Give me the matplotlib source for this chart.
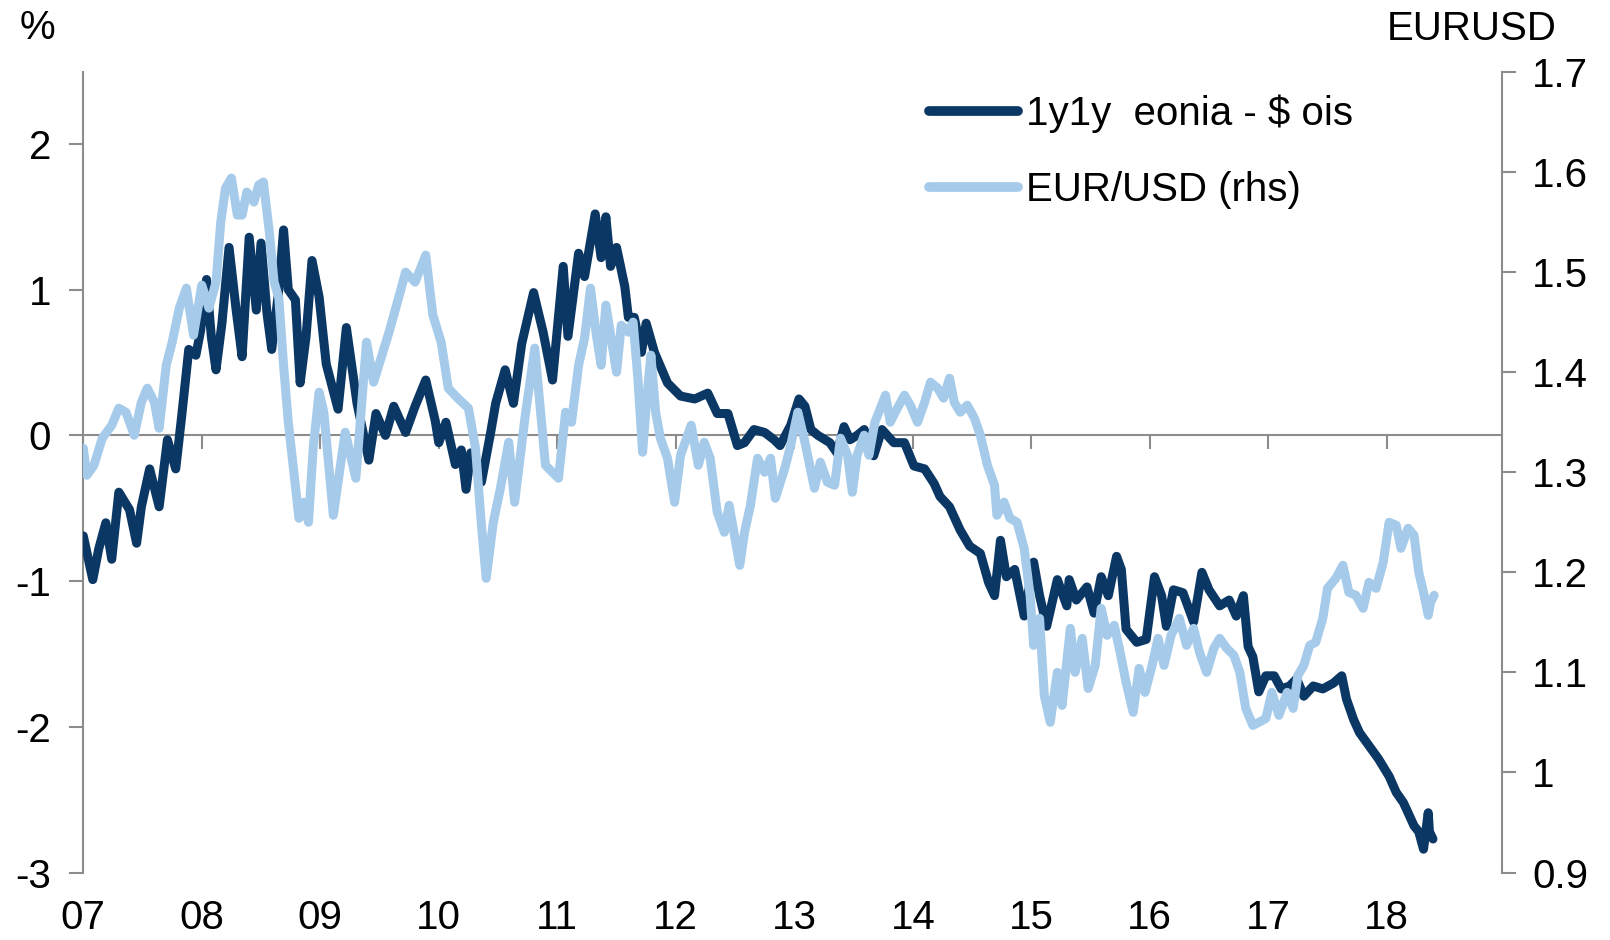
import matplotlib
matplotlib.use("Agg")
import matplotlib.pyplot as plt
from matplotlib.ticker import FuncFormatter, FixedLocator

plt.rcParams['font.family'] = ['Liberation Sans', 'DejaVu Sans']

# ---- data ----
spread_years = [2007.00, 2007.08, 2007.13, 2007.19, 2007.24, 2007.30, 2007.39, 2007.45, 2007.49, 2007.56,
                2007.64, 2007.71, 2007.78, 2007.83, 2007.89, 2007.95, 2007.99, 2008.04, 2008.08, 2008.12,
                2008.17, 2008.23, 2008.29, 2008.34, 2008.40, 2008.46, 2008.50, 2008.55, 2008.59, 2008.65,
                2008.69, 2008.73, 2008.79, 2008.83, 2008.88, 2008.93, 2008.99, 2009.05, 2009.15, 2009.22,
                2009.31, 2009.41, 2009.47, 2009.55, 2009.62, 2009.72, 2009.80, 2009.89, 2009.97, 2010.00,
                2010.06, 2010.14, 2010.19, 2010.23, 2010.27, 2010.36, 2010.44, 2010.48, 2010.56, 2010.63,
                2010.70, 2010.80, 2010.88, 2010.96, 2011.05, 2011.09, 2011.18, 2011.23, 2011.32, 2011.37,
                2011.41, 2011.45, 2011.50, 2011.57, 2011.60, 2011.65, 2011.71, 2011.75, 2011.82, 2011.93,
                2012.04, 2012.16, 2012.27, 2012.35, 2012.44, 2012.52, 2012.58, 2012.66, 2012.75, 2012.83,
                2012.88, 2012.97, 2013.04, 2013.09, 2013.14, 2013.20, 2013.30, 2013.36, 2013.42, 2013.47,
                2013.53, 2013.59, 2013.67, 2013.74, 2013.84, 2013.93, 2014.01, 2014.10, 2014.18, 2014.23,
                2014.31, 2014.40, 2014.48, 2014.57, 2014.64, 2014.69, 2014.74, 2014.79, 2014.86, 2014.94,
                2015.02, 2015.07, 2015.13, 2015.22, 2015.30, 2015.32, 2015.38, 2015.47, 2015.53, 2015.59,
                2015.65, 2015.72, 2015.76, 2015.80, 2015.89, 2015.97, 2016.04, 2016.10, 2016.14, 2016.20,
                2016.28, 2016.37, 2016.44, 2016.50, 2016.59, 2016.67, 2016.73, 2016.79, 2016.83, 2016.87,
                2016.92, 2016.98, 2017.05, 2017.11, 2017.18, 2017.24, 2017.30, 2017.38, 2017.46, 2017.55,
                2017.62, 2017.66, 2017.72, 2017.77, 2017.85, 2017.93, 2018.02, 2018.08, 2018.14, 2018.18,
                2018.23, 2018.27, 2018.31, 2018.35, 2018.36, 2018.39]
spread_vals = [-0.69, -0.99, -0.78, -0.60, -0.85, -0.39, -0.51, -0.74, -0.49, -0.23,
               -0.49, -0.03, -0.23, 0.13, 0.59, 0.55, 0.72, 1.07, 0.68, 0.45,
               0.77, 1.29, 0.86, 0.54, 1.36, 0.86, 1.32, 0.84, 0.59, 1.00,
               1.41, 1.00, 0.93, 0.36, 0.68, 1.20, 0.95, 0.49, 0.18, 0.74,
               0.22, -0.17, 0.15, 0.00, 0.20, 0.02, 0.20, 0.38, 0.10, -0.05,
               0.09, -0.20, -0.10, -0.37, -0.12, -0.32, 0.03, 0.22, 0.45, 0.22,
               0.63, 0.98, 0.71, 0.38, 1.16, 0.68, 1.25, 1.09, 1.52, 1.22,
               1.50, 1.16, 1.29, 1.02, 0.81, 0.81, 0.57, 0.77, 0.57, 0.36,
               0.27, 0.25, 0.29, 0.15, 0.15, -0.07, -0.05, 0.04, 0.02, -0.03,
               -0.07, 0.07, 0.25, 0.20, 0.04, 0.00, -0.05, -0.12, 0.06, -0.03,
               0.00, 0.04, -0.14, 0.04, -0.05, -0.05, -0.21, -0.23, -0.33, -0.42,
               -0.49, -0.65, -0.76, -0.81, -1.01, -1.10, -0.72, -0.97, -0.92, -1.24,
               -0.87, -1.10, -1.31, -0.99, -1.17, -0.99, -1.13, -1.04, -1.22, -0.97,
               -1.10, -0.83, -0.92, -1.33, -1.42, -1.40, -0.97, -1.10, -1.31, -1.06,
               -1.08, -1.28, -0.94, -1.06, -1.17, -1.13, -1.24, -1.10, -1.45, -1.52,
               -1.76, -1.65, -1.65, -1.74, -1.72, -1.67, -1.79, -1.72, -1.74, -1.70,
               -1.65, -1.81, -1.95, -2.04, -2.13, -2.22, -2.34, -2.45, -2.52, -2.59,
               -2.68, -2.72, -2.84, -2.59, -2.72, -2.77]

eur_years = [2007.00, 2007.03, 2007.09, 2007.16, 2007.24, 2007.30, 2007.36, 2007.43, 2007.49, 2007.54,
             2007.60, 2007.64, 2007.70, 2007.75, 2007.81, 2007.87, 2007.93, 2008.00, 2008.06, 2008.12,
             2008.16, 2008.20, 2008.25, 2008.30, 2008.34, 2008.38, 2008.44, 2008.48, 2008.52, 2008.57,
             2008.61, 2008.65, 2008.69, 2008.73, 2008.78, 2008.82, 2008.86, 2008.90, 2008.94, 2008.99,
             2009.03, 2009.11, 2009.21, 2009.30, 2009.39, 2009.45, 2009.58, 2009.66, 2009.72, 2009.80,
             2009.89, 2009.95, 2010.02, 2010.08, 2010.16, 2010.25, 2010.31, 2010.36, 2010.40, 2010.46,
             2010.52, 2010.59, 2010.64, 2010.73, 2010.81, 2010.90, 2011.01, 2011.07, 2011.12, 2011.18,
             2011.23, 2011.28, 2011.33, 2011.37, 2011.41, 2011.45, 2011.50, 2011.54, 2011.60, 2011.64,
             2011.68, 2011.72, 2011.76, 2011.79, 2011.83, 2011.87, 2011.93, 2011.99, 2012.04, 2012.13,
             2012.19, 2012.24, 2012.29, 2012.35, 2012.41, 2012.45, 2012.50, 2012.54, 2012.58, 2012.63,
             2012.69, 2012.75, 2012.80, 2012.84, 2012.92, 2012.97, 2013.03, 2013.09, 2013.17, 2013.22,
             2013.28, 2013.34, 2013.39, 2013.45, 2013.49, 2013.53, 2013.59, 2013.63, 2013.68, 2013.77,
             2013.81, 2013.87, 2013.93, 2013.98, 2014.04, 2014.10, 2014.15, 2014.21, 2014.26, 2014.31,
             2014.35, 2014.40, 2014.46, 2014.52, 2014.57, 2014.63, 2014.69, 2014.71, 2014.77, 2014.82,
             2014.88, 2014.94, 2014.99, 2015.02, 2015.07, 2015.11, 2015.16, 2015.22, 2015.26, 2015.33,
             2015.37, 2015.43, 2015.48, 2015.54, 2015.59, 2015.64, 2015.70, 2015.75, 2015.80, 2015.86,
             2015.91, 2015.96, 2016.02, 2016.07, 2016.12, 2016.18, 2016.25, 2016.31, 2016.37, 2016.42,
             2016.48, 2016.54, 2016.59, 2016.65, 2016.71, 2016.76, 2016.81, 2016.87, 2016.92, 2016.98,
             2017.03, 2017.09, 2017.16, 2017.21, 2017.25, 2017.30, 2017.35, 2017.40, 2017.46, 2017.50,
             2017.57, 2017.63, 2017.68, 2017.74, 2017.80, 2017.85, 2017.91, 2017.97, 2018.02, 2018.08,
             2018.12, 2018.18, 2018.23, 2018.27, 2018.31, 2018.35, 2018.37, 2018.40]
eur_vals = [1.324, 1.297, 1.307, 1.334, 1.347, 1.364, 1.360, 1.337, 1.370, 1.384,
            1.370, 1.344, 1.407, 1.430, 1.464, 1.484, 1.437, 1.487, 1.464, 1.490,
            1.550, 1.584, 1.594, 1.557, 1.557, 1.580, 1.570, 1.587, 1.590, 1.540,
            1.490, 1.474, 1.407, 1.350, 1.297, 1.254, 1.270, 1.250, 1.324, 1.380,
            1.360, 1.257, 1.340, 1.294, 1.430, 1.390, 1.440, 1.474, 1.500, 1.490,
            1.517, 1.457, 1.430, 1.384, 1.374, 1.364, 1.324, 1.247, 1.194, 1.250,
            1.284, 1.330, 1.270, 1.357, 1.424, 1.307, 1.294, 1.360, 1.350, 1.407,
            1.434, 1.484, 1.437, 1.407, 1.467, 1.437, 1.400, 1.447, 1.440, 1.450,
            1.394, 1.320, 1.380, 1.417, 1.360, 1.334, 1.314, 1.270, 1.317, 1.347,
            1.307, 1.330, 1.314, 1.260, 1.240, 1.267, 1.234, 1.207, 1.240, 1.267,
            1.314, 1.300, 1.314, 1.274, 1.304, 1.327, 1.360, 1.330, 1.284, 1.310,
            1.290, 1.287, 1.334, 1.317, 1.280, 1.317, 1.337, 1.317, 1.350, 1.377,
            1.350, 1.364, 1.377, 1.367, 1.350, 1.370, 1.390, 1.384, 1.374, 1.394,
            1.370, 1.360, 1.367, 1.354, 1.337, 1.307, 1.287, 1.257, 1.270, 1.254,
            1.250, 1.224, 1.177, 1.127, 1.154, 1.077, 1.050, 1.100, 1.067, 1.144,
            1.100, 1.134, 1.084, 1.107, 1.164, 1.137, 1.147, 1.120, 1.090, 1.060,
            1.104, 1.080, 1.107, 1.134, 1.107, 1.137, 1.154, 1.127, 1.144, 1.120,
            1.100, 1.124, 1.134, 1.124, 1.117, 1.100, 1.064, 1.047, 1.050, 1.054,
            1.080, 1.057, 1.080, 1.064, 1.097, 1.107, 1.127, 1.130, 1.154, 1.184,
            1.194, 1.207, 1.180, 1.177, 1.164, 1.190, 1.184, 1.210, 1.250, 1.247,
            1.224, 1.244, 1.237, 1.200, 1.180, 1.157, 1.170, 1.177]

year_ticks = list(range(2007, 2019))
year_labels = ['07', '08', '09', '10', '11', '12', '13', '14', '15', '16', '17', '18']
left_ticks = [-3, -2, -1, 0, 1, 2]
right_ticks = [0.9, 1.0, 1.1, 1.2, 1.3, 1.4, 1.5, 1.6, 1.7]

DARK = '#0b3764'
LIGHT = '#a6cbea'
GRAY = '#8c8c8c'
FS = 29
LW = 6.5

fig = plt.figure(figsize=(16.1, 9.4), dpi=100)
ax = fig.add_axes([83.3 / 1610, 1 - 872.5 / 940, (1501.7 - 83.3) / 1610, (872.5 - 72) / 940])
ax2 = ax.twinx()

l1, = ax.plot(spread_years, spread_vals, color=DARK, lw=LW, solid_capstyle='round',
              solid_joinstyle='round', label='1y1y  eonia - $ ois', zorder=3)
l2, = ax2.plot(eur_years, eur_vals, color=LIGHT, lw=LW, solid_capstyle='round',
               solid_joinstyle='round', label='EUR/USD (rhs)', zorder=3)

ax.set_xlim(2007.0, 2018.97)
ax.set_ylim(-3, 2.494)
ax2.set_ylim(0.9, 1.7)

for a in (ax, ax2):
    a.spines['top'].set_visible(False)
    for s in a.spines.values():
        s.set_color(GRAY)
        s.set_linewidth(1.5)

ax.spines['right'].set_visible(False)
ax.spines['bottom'].set_position(('data', 0))
ax.spines['bottom'].set_zorder(1)
ax2.spines['left'].set_visible(False)
ax2.spines['bottom'].set_visible(False)

ax.xaxis.set_major_locator(FixedLocator(year_ticks))
ax.set_xticklabels(year_labels)
ax.tick_params(axis='x', direction='out', length=10, width=1.5, color=GRAY,
               labelsize=FS, pad=324)
ax.set_yticks(left_ticks)
ax.set_yticklabels([str(v) for v in left_ticks])
ax.tick_params(axis='y', direction='out', length=10, width=1.5, color=GRAY,
               labelsize=FS, pad=13)
ax2.set_yticks(right_ticks)
ax2.yaxis.set_major_formatter(FuncFormatter(lambda v, p: f"{v:g}"))
ax2.tick_params(axis='y', direction='out', length=10, width=1.5, color=GRAY,
                labelsize=FS, pad=12)

fig.text(20 / 1610, 1 - 9 / 940, '%', fontsize=FS, ha='left', va='top')
fig.text(1557 / 1610, 1 - 10 / 940, 'EURUSD', fontsize=FS, ha='right', va='top')

leg = fig.legend(handles=[l1, l2], loc='center left', bbox_to_anchor=(929 / 1610, 1 - 152 / 940),
                 frameon=False, fontsize=FS, handlelength=2.2, handletextpad=0.2,
                 labelspacing=0.95, borderpad=0, borderaxespad=0)
for h in leg.get_lines():
    h.set_linewidth(7)
    h.set_solid_capstyle('round')

fig.savefig('out.png', dpi=100, facecolor='white')
